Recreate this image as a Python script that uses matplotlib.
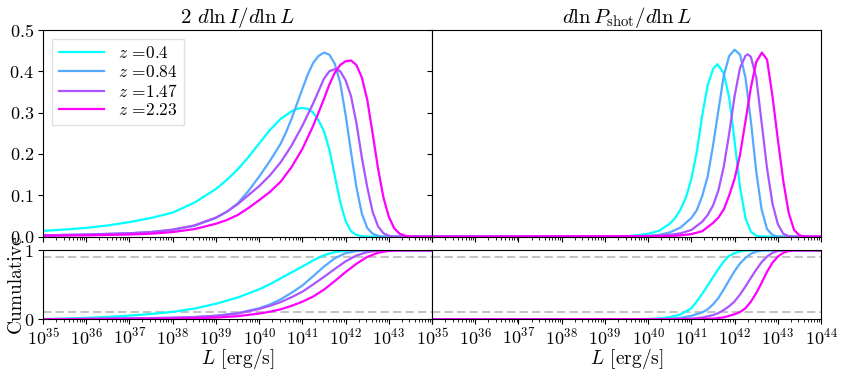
import numpy as np
import matplotlib
matplotlib.use('Agg')
import matplotlib.pyplot as plt
from matplotlib.ticker import LogLocator, LogFormatterSciNotation

plt.rcParams.update({
    'font.family': 'serif',
    'font.serif': ['cmr10'],
    'mathtext.fontset': 'cm',
    'axes.formatter.use_mathtext': True,
    'font.size': 13,
    'xtick.major.pad': 2,
    'ytick.major.pad': 3,
})

redshifts = ['0.4', '0.84', '1.47', '2.23']

# top left: 2 dlnI/dlnL  (x values are log10 L)
I_x_04 = [35, 35.5, 36, 36.5, 37, 37.5, 38, 38.5, 39, 39.25, 39.5, 39.75, 40, 40.25, 40.5, 40.75, 40.875, 41,
          41.125, 41.25, 41.375, 41.5, 41.625, 41.75, 41.875, 42, 42.125, 42.25, 42.375, 42.5, 44]
I_y_04 = [.014, .017, .021, .027, .035, .045, .058, .082, .115, .137, .162, .192, .225, .258, .285, .303, .309, .311,
          .309, .300, .281, .255, .210, .147, .084, .038, .013, .004, .001, 0, 0]
I_x_084 = [35, 35.5, 36, 36.5, 37, 37.5, 38, 38.5, 39, 39.25, 39.5, 39.75, 40, 40.25, 40.5, 40.625, 40.75, 40.875,
           41, 41.125, 41.25, 41.375, 41.5, 41.625, 41.75, 41.875, 42, 42.125, 42.25, 42.375, 42.5, 42.625, 42.75,
           42.875, 44]
I_y_084 = [.003, .004, .005, .0065, .008, .011, .016, .026, .045, .060, .080, .110, .145, .183, .225, .253, .285, .321,
           .357, .392, .420, .437, .445, .440, .418, .372, .295, .205, .120, .056, .021, .007, .002, 0, 0]
I_x_147 = [35, 35.5, 36, 36.5, 37, 37.5, 38, 38.5, 39, 39.25, 39.5, 39.75, 40, 40.25, 40.5, 40.75, 41, 41.125, 41.25,
           41.375, 41.5, 41.625, 41.75, 41.875, 42, 42.125, 42.25, 42.375, 42.5, 42.625, 42.75, 42.875, 43, 43.125, 44]
I_y_147 = [.003, .004, .005, .0065, .008, .011, .017, .027, .046, .060, .078, .100, .122, .148, .180, .220, .268, .295,
           .322, .352, .382, .400, .405, .400, .378, .340, .275, .192, .120, .060, .025, .008, .002, 0, 0]
I_x_223 = [35, 35.5, 36, 36.5, 37, 37.5, 38, 38.5, 39, 39.25, 39.5, 39.75, 40, 40.25, 40.5, 40.75, 41, 41.25, 41.375,
           41.5, 41.625, 41.75, 41.875, 42, 42.125, 42.25, 42.375, 42.5, 42.625, 42.75, 42.875, 43, 43.125, 43.25,
           43.375, 43.5, 44]
I_y_223 = [.002, .0025, .003, .004, .005, .007, .011, .018, .031, .040, .052, .069, .088, .108, .133, .168, .212, .268,
           .300, .333, .368, .396, .415, .424, .426, .415, .385, .332, .250, .165, .095, .048, .020, .007, .002, 0, 0]

# top right: dlnP_shot/dlnL
P_x_04 = [35, 39, 39.5, 39.75, 40, 40.25, 40.5, 40.625, 40.75, 40.875, 41, 41.125, 41.25, 41.375, 41.5, 41.6,
          41.75, 41.875, 42, 42.125, 42.25, 42.375, 42.5, 42.625, 44]
P_y_04 = [0, 0, .001, .003, .007, .014, .031, .045, .066, .095, .140, .205, .293, .365, .405, .417,
          .395, .335, .230, .120, .045, .012, .002, 0, 0]
P_x_084 = [35, 39.5, 40, 40.25, 40.5, 40.75, 41, 41.125, 41.25, 41.375, 41.5, 41.625, 41.75, 41.875, 42, 42.125,
           42.25, 42.375, 42.5, 42.625, 42.75, 42.875, 43, 44]
P_y_084 = [0, 0, .002, .004, .010, .022, .045, .064, .098, .145, .220, .305, .390, .437, .452, .440,
           .385, .280, .158, .065, .018, .004, 0, 0]
P_x_147 = [35, 40, 40.5, 40.75, 41, 41.25, 41.375, 41.5, 41.625, 41.75, 41.875, 42, 42.125, 42.25, 42.3, 42.375,
           42.5, 42.625, 42.75, 42.875, 43, 43.125, 43.25, 43.375, 44]
P_y_147 = [0, .001, .004, .008, .016, .036, .052, .075, .112, .170, .250, .340, .408, .437, .441, .435,
           .385, .275, .165, .080, .030, .007, .001, 0, 0]
P_x_223 = [35, 40.5, 40.75, 41, 41.25, 41.5, 41.625, 41.75, 41.875, 42, 42.125, 42.25, 42.375, 42.5, 42.63, 42.75,
           42.875, 43, 43.125, 43.25, 43.375, 43.5, 43.625, 44]
P_y_223 = [0, .001, .003, .006, .013, .033, .046, .066, .100, .140, .198, .278, .360, .422, .445, .428,
           .340, .235, .135, .058, .016, .003, 0, 0]

# bottom left: cumulative of I
CI_x_04 = [35, 35.5, 36, 36.5, 37, 37.5, 38, 38.5, 39, 39.5, 40, 40.25, 40.5, 40.75, 41, 41.25, 41.5, 41.75,
           42, 42.25, 44]
CI_y_04 = [.003, .01, .02, .035, .053, .077, .108, .155, .225, .315, .435, .51, .595, .68, .765, .855, .93, .975,
           .995, 1, 1]
CI_x_084 = [35, 36, 37, 38, 38.5, 39, 39.5, 40, 40.25, 40.5, 40.75, 41, 41.25, 41.5, 41.75, 42, 42.25, 42.5, 44]
CI_y_084 = [.002, .006, .012, .022, .032, .052, .088, .16, .215, .29, .385, .49, .625, .765, .885, .96, .99, .999, 1]
CI_x_147 = [35, 36, 37, 38, 38.5, 39, 39.5, 40, 40.25, 40.5, 40.75, 41, 41.25, 41.5, 41.75, 42, 42.25, 42.5,
            42.75, 43, 44]
CI_y_147 = [.002, .006, .012, .022, .032, .05, .083, .15, .195, .25, .32, .40, .505, .615, .73, .84, .925, .975,
            .995, 1, 1]
CI_x_223 = [35, 36, 37, 38, 38.5, 39, 39.5, 40, 40.25, 40.5, 40.75, 41, 41.25, 41.5, 41.75, 42, 42.25, 42.5,
            42.75, 43, 43.25, 44]
CI_y_223 = [.001, .003, .006, .011, .016, .025, .045, .083, .11, .145, .195, .255, .33, .43, .555, .685, .805, .905,
            .965, .993, 1, 1]

# bottom right: cumulative of P_shot
CP_x_04 = [35, 39.5, 39.75, 40, 40.25, 40.5, 40.75, 41, 41.125, 41.25, 41.375, 41.5, 41.625, 41.75, 41.875, 42,
           42.125, 42.25, 42.5, 44]
CP_y_04 = [0, .001, .002, .005, .012, .03, .07, .16, .26, .37, .49, .61, .73, .84, .92, .96,
           .985, .997, 1, 1]
CP_x_084 = [35, 40, 40.5, 40.75, 41, 41.25, 41.375, 41.5, 41.625, 41.75, 41.875, 42, 42.125, 42.25, 42.375, 42.5,
            42.625, 42.75, 44]
CP_y_084 = [0, .001, .008, .02, .05, .10, .145, .215, .31, .435, .57, .70, .81, .89, .95, .982,
            .996, 1, 1]
CP_x_147 = [35, 40.5, 41, 41.25, 41.5, 41.625, 41.75, 41.875, 42, 42.125, 42.25, 42.375, 42.5, 42.625, 42.75,
            42.875, 43, 43.125, 43.25, 44]
CP_y_147 = [0, .002, .01, .025, .06, .09, .135, .19, .26, .36, .475, .60, .72, .83, .91,
            .965, .99, .998, 1, 1]
CP_x_223 = [35, 41, 41.5, 41.75, 42, 42.125, 42.25, 42.375, 42.5, 42.625, 42.75, 42.875, 43, 43.125, 43.25,
            43.375, 43.5, 44]
CP_y_223 = [0, .002, .01, .028, .073, .105, .16, .255, .38, .53, .69, .82, .91, .965, .99,
            .999, 1, 1]

I_x = [I_x_04, I_x_084, I_x_147, I_x_223]
I_y = [I_y_04, I_y_084, I_y_147, I_y_223]
P_x = [P_x_04, P_x_084, P_x_147, P_x_223]
P_y = [P_y_04, P_y_084, P_y_147, P_y_223]
CI_x = [CI_x_04, CI_x_084, CI_x_147, CI_x_223]
CI_y = [CI_y_04, CI_y_084, CI_y_147, CI_y_223]
CP_x = [CP_x_04, CP_x_084, CP_x_147, CP_x_223]
CP_y = [CP_y_04, CP_y_084, CP_y_147, CP_y_223]

colors = plt.cm.cool(np.linspace(0, 1, len(redshifts)))

fig = plt.figure(figsize=(8.43, 3.73), dpi=100)
gs = fig.add_gridspec(2, 2, height_ratios=[3, 1], hspace=0.1, wspace=0,
                      left=0.051, right=0.974, top=0.92, bottom=0.144)
ax_i = fig.add_subplot(gs[0, 0])
ax_ci = fig.add_subplot(gs[1, 0], sharex=ax_i)
ax_p = fig.add_subplot(gs[0, 1], sharey=ax_i)
ax_cp = fig.add_subplot(gs[1, 1], sharex=ax_p, sharey=ax_ci)

for k, z in enumerate(redshifts):
    ax_i.plot(10**np.array(I_x[k]), I_y[k], color=colors[k], lw=1.6, label=r'$z$ =' + z)
    ax_p.plot(10**np.array(P_x[k]), P_y[k], color=colors[k], lw=1.6)
    ax_ci.plot(10**np.array(CI_x[k]), CI_y[k], color=colors[k], lw=1.6)
    ax_cp.plot(10**np.array(CP_x[k]), CP_y[k], color=colors[k], lw=1.6)

for ax in (ax_ci, ax_cp):
    ax.axhline(0.1, color='0.72', ls='--', dashes=(5, 2.5), lw=1.2, zorder=0)
    ax.axhline(0.9, color='0.72', ls='--', dashes=(5, 2.5), lw=1.2, zorder=0)


class LeftFmt(LogFormatterSciNotation):
    # the left 10^44 label would sit under the right panel's 10^35
    def __call__(self, x, pos=None):
        if x > 5e43:
            return ''
        return super().__call__(x, pos)


for ax, fmt in ((ax_i, LeftFmt()), (ax_p, LogFormatterSciNotation())):
    ax.set_xscale('log')
    ax.set_xlim(1e35, 1e44)
    ax.xaxis.set_major_locator(LogLocator(base=10, numticks=20))
    ax.xaxis.set_minor_locator(LogLocator(base=10, subs=np.arange(2, 10), numticks=200))
    ax.xaxis.set_major_formatter(fmt)

ax_i.set_ylim(0, 0.5)
ax_i.set_yticks([0, 0.1, 0.2, 0.3, 0.4, 0.5])
ax_ci.set_ylim(0, 1)
ax_ci.set_yticks([0, 1])

plt.setp(ax_i.get_xticklabels(), visible=False)
plt.setp(ax_p.get_xticklabels(), visible=False)
plt.setp(ax_p.get_yticklabels(), visible=False)
plt.setp(ax_cp.get_yticklabels(), visible=False)

ax_i.set_title(r'2 $d\ln I/d\ln L$', fontsize=15, pad=4)
ax_p.set_title(r'$d\ln P_{\rm shot}/d\ln L$', fontsize=15, pad=4)
ax_ci.set_ylabel('Cumulative', fontsize=14)
ax_ci.yaxis.set_label_coords(-0.046, 0.52)
for ax in (ax_ci, ax_cp):
    ax.set_xlabel(r'$L$ [erg/s]', fontsize=14)
    ax.xaxis.set_label_coords(0.5, -0.40)

ax_i.legend(loc='upper left', fontsize=12.5, handlelength=2.6, borderpad=0.4,
            labelspacing=0.15, fancybox=False, edgecolor='0.85')

fig.savefig('out.png', dpi=100)
